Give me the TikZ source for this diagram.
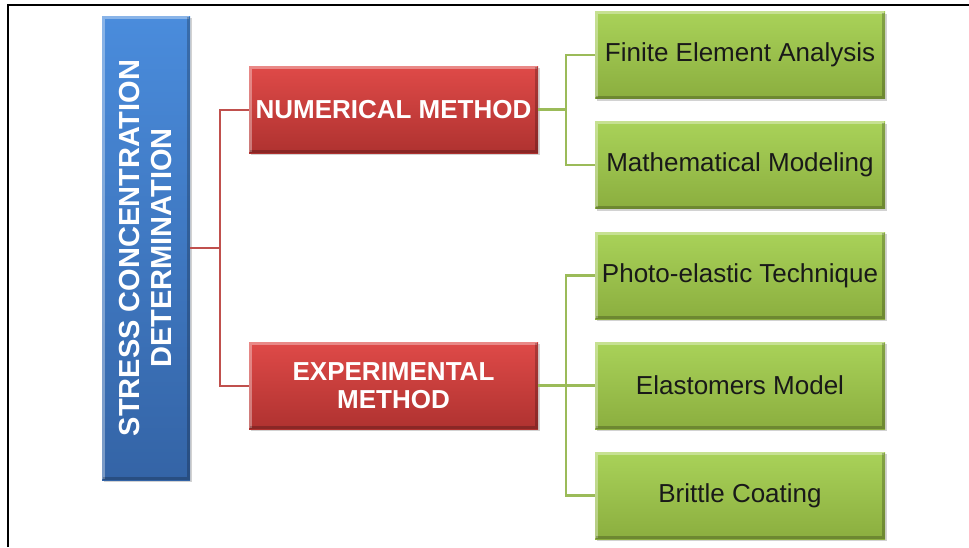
\documentclass[tikz,border=0pt]{standalone}
\usepackage{fontspec}
\setmainfont{Liberation Sans}
\usetikzlibrary{shadows}
\definecolor{bluetop}{HTML}{4A8CDC}
\definecolor{bluebot}{HTML}{3464A6}
\definecolor{redtop}{HTML}{DF4A48}
\definecolor{redbot}{HTML}{AF3230}
\definecolor{greentop}{HTML}{A9D259}
\definecolor{greenbot}{HTML}{8BAE3F}
\definecolor{redline}{HTML}{C0504D}
\definecolor{greenline}{HTML}{9BBB59}
\newcommand\boxbevel[1]{%
  \draw[white,opacity=.35,line width=3pt] ([shift={(1.5pt,1.5pt)}]#1.south west) -- ([shift={(1.5pt,-1.5pt)}]#1.north west) -- ([shift={(-1.5pt,-1.5pt)}]#1.north east);
  \draw[black,opacity=.22,line width=3pt] ([shift={(1.5pt,1.5pt)}]#1.south west) -- ([shift={(-1.5pt,1.5pt)}]#1.south east) -- ([shift={(-1.5pt,-1.5pt)}]#1.north east);
}
\begin{document}
\begin{tikzpicture}[x=1pt,y=-1pt,
  basebox/.style={inner sep=0pt, align=center,
    drop shadow={shadow xshift=1.5pt,shadow yshift=-2pt,opacity=0.35}},
  bluebox/.style={basebox, top color=bluetop, bottom color=bluebot,
    minimum width=88pt, minimum height=464pt},
  redbox/.style={basebox, top color=redtop, bottom color=redbot,
    minimum width=289pt, minimum height=87pt, text=white,
    font=\fontsize{26}{28}\selectfont\bfseries},
  greenbox/.style={basebox, top color=greentop, bottom color=greenbot,
    minimum width=290pt, minimum height=87pt, text=black!90,
    font=\fontsize{26}{30}\selectfont},
  redcon/.style={draw=redline, line width=2pt},
  greencon/.style={draw=greenline, line width=2.5pt},
]
\useasboundingbox (0,0) rectangle (969,547);
\fill[white] (0,0) rectangle (969,547);
\draw[black, line width=1.6pt] (8,547) -- (8,5) -- (969,5);

\node[bluebox] (stress) at (146,248) {};
\boxbevel{stress}
\node[rotate=90, text=white, align=center, inner sep=0pt,
  font=\fontsize{29}{32}\selectfont\bfseries] (stresstext) at (146,248)
  {STRESS CONCENTRATION\\DETERMINATION};

\node[redbox] (num) at (393.5,109.5) {NUMERICAL METHOD};
\boxbevel{num}
\node[redbox] (exp) at (393.5,385.5) {EXPERIMENTAL\\METHOD};
\boxbevel{exp}

\node[greenbox] (fea) at (740,55) {Finite Element Analysis};
\boxbevel{fea}
\node[greenbox] (mm) at (740,165) {Mathematical Modeling};
\boxbevel{mm}
\node[greenbox] (pet) at (740,275.5) {Photo-elastic Technique};
\boxbevel{pet}
\node[greenbox] (em) at (740,385.5) {Elastomers Model};
\boxbevel{em}
\node[greenbox] (bc) at (740,495.5) {Brittle Coating};
\boxbevel{bc}

\draw[redcon] (stress.east) -- ++(30,0) coordinate (rj);
\draw[redcon] (num.west) -| (rj) |- (exp.west);

\draw[greencon] (num.east) -- ++(28,0) coordinate (gj1);
\draw[greencon] (fea.west) -| (gj1) |- (mm.west);

\draw[greencon] (exp.east) -- ++(28,0) coordinate (gj2);
\draw[greencon] (pet.west) -| (gj2) |- (bc.west);
\draw[greencon] (gj2) -- (em.west);
\end{tikzpicture}
\end{document}
